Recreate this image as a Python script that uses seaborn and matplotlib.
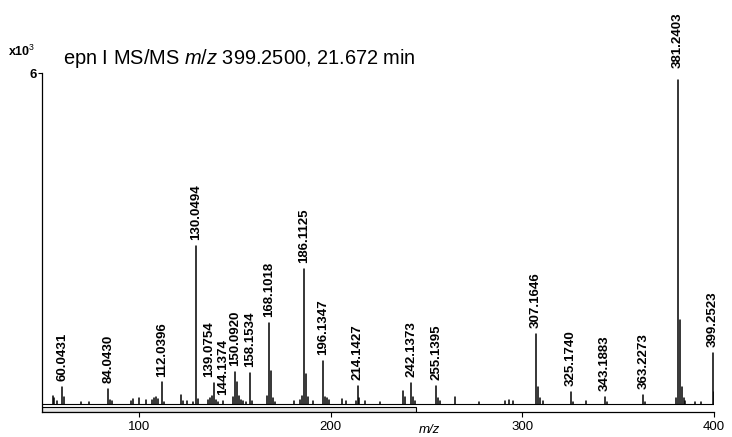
import matplotlib
matplotlib.use("Agg")
import matplotlib.pyplot as plt
import pandas as pd
import seaborn as sns

# ---- data (intensity in x10^3 counts) ----
labeled_mz = [60.0431, 84.0430, 112.0396, 130.0494, 139.0754, 144.1374, 150.0920,
              158.1534, 168.1018, 186.1125, 196.1347, 214.1427, 242.1373, 255.1395,
              307.1646, 325.1740, 343.1883, 363.2273, 381.2403, 399.2523]
labeled_int = [0.31, 0.27, 0.39, 2.86, 0.38, 0.05, 0.58,
               0.56, 1.47, 2.45, 0.78, 0.33, 0.38, 0.33,
               1.27, 0.21, 0.12, 0.16, 5.87, 0.92]
minor_mz = [55.0, 56.0, 57.1, 61.0, 70.1, 74.0, 85.0, 86.1, 95.7, 97.0, 100.1, 104.0,
            107.1, 108.1, 109.1, 110.1, 113.0, 122.1, 123.1, 125.1, 128.1, 131.05,
            136.1, 137.1, 138.1, 140.08, 141.1, 149.1, 151.1, 152.1, 153.1, 154.1,
            156.1, 159.1, 167.1, 169.1, 170.1, 171.1, 181.1, 184.1, 185.1, 187.1,
            188.1, 191.1, 197.1, 198.1, 199.1, 206.1, 208.1, 213.1, 215.1, 217.8,
            225.7, 237.7, 238.7, 243.1, 244.1, 256.1, 257.1, 265.1, 277.4, 291.2,
            293.2, 295.2, 308.2, 309.2, 311.0, 326.2, 333.2, 344.2, 364.2, 380.2,
            382.24, 383.24, 384.2, 385.0, 390.0, 393.0, 400.25]
minor_int = [0.15, 0.10, 0.05, 0.12, 0.04, 0.04, 0.08, 0.05, 0.06, 0.09, 0.11, 0.08,
             0.07, 0.10, 0.12, 0.09, 0.04, 0.17, 0.06, 0.06, 0.04, 0.09,
             0.07, 0.11, 0.14, 0.08, 0.04, 0.12, 0.40, 0.15, 0.08, 0.06,
             0.04, 0.06, 0.15, 0.60, 0.10, 0.04, 0.05, 0.08, 0.15, 0.55,
             0.12, 0.06, 0.12, 0.10, 0.08, 0.09, 0.06, 0.06, 0.10, 0.05,
             0.03, 0.23, 0.12, 0.12, 0.05, 0.10, 0.05, 0.12, 0.03, 0.06,
             0.07, 0.06, 0.30, 0.10, 0.05, 0.04, 0.05, 0.04, 0.04, 0.10,
             1.52, 0.30, 0.10, 0.06, 0.04, 0.03, 0.22]
x_ticks = [100, 200, 300, 400]
y_ticks = [6]
title_text = "epn I MS/MS $m/z$ 399.2500, 21.672 min"
y_multiplier = "x10$^3$"
x_label = "m/z"

# ---- style ----
sns.set_theme(style="white")
plt.rcParams['font.family'] = ['Liberation Sans', 'DejaVu Sans']
plt.rcParams['mathtext.fontset'] = 'custom'
plt.rcParams['mathtext.rm'] = 'Liberation Sans'
plt.rcParams['mathtext.it'] = 'Liberation Sans:italic'
plt.rcParams['mathtext.bf'] = 'Liberation Sans:bold'
for k in ['text.color', 'axes.labelcolor', 'xtick.color', 'ytick.color', 'axes.edgecolor']:
    plt.rcParams[k] = 'black'

W, H = 732, 437
fig = plt.figure(figsize=(W / 100, H / 100), dpi=100)
ax_left, ax_right, ax_top, ax_bot = 42, 714, 73, 411.7
ax = fig.add_axes([ax_left / W, 1 - ax_bot / H, (ax_right - ax_left) / W, (ax_bot - ax_top) / H])

mz_all = labeled_mz + minor_mz
int_all = labeled_int + minor_int
rows = []
for i, (m, h) in enumerate(zip(mz_all, int_all)):
    rows.append({"peak": i, "mz": m, "intensity": 0.0})
    rows.append({"peak": i, "mz": m, "intensity": h})
df = pd.DataFrame(rows)

sns.lineplot(data=df, x="mz", y="intensity", units="peak", estimator=None, sort=False,
             color="black", linewidth=1.1, ax=ax, legend=False)
ax.axhline(0, color="black", linewidth=0.8)

# scroll-bar like double axis line
y_per_px = 6.0 / (404 - 73)
ymin = -(ax_bot - 404) * y_per_px
ax.set_xlim(49.5, 400)
ax.set_ylim(ymin, 6.0)
ax.axhspan(ymin, -(407 - 404) * y_per_px, xmin=0, xmax=(416 - 42) / 672,
           facecolor="#e6e6e6", edgecolor="black", linewidth=0.8)

# labels
nudge = {139.0754: -3.0}
for m, h in zip(labeled_mz, labeled_int):
    dy = 8.5 if h > 5 else 4.3
    ax.annotate(f"{m:.4f}", xy=(m, h), xytext=(nudge.get(m, 0.0), dy),
                textcoords="offset points", rotation=90, ha="center", va="bottom",
                fontsize=9.5, fontweight="bold", color="black", annotation_clip=False)

for s in ["top", "right"]:
    ax.spines[s].set_visible(False)
for s in ["left", "bottom"]:
    ax.spines[s].set_color("black")
    ax.spines[s].set_linewidth(0.9)

ax.set_xticks(x_ticks)
ax.set_xticklabels([str(t) for t in x_ticks], fontsize=9.5)
ax.set_yticks(y_ticks)
ax.set_yticklabels([str(t) for t in y_ticks], fontsize=9.5, fontweight="bold")
ax.tick_params(axis="x", direction="out", length=3.6, width=0.8, color="black", pad=3, bottom=True)
ax.tick_params(axis="y", direction="out", length=2.9, width=0.8, color="black", pad=1, left=True)
ax.set_xlabel(x_label, style="italic", fontsize=9.5, va="top")
ax.xaxis.set_label_coords((429 - 42) / 672, -(424 - ax_bot) / (ax_bot - ax_top))
ax.set_ylabel("")

fig.text(8 / W, 1 - 51 / H, y_multiplier, fontsize=9, fontweight="bold", ha="left", va="center")
fig.text(63 / W, 1 - 58 / H, title_text, fontsize=14.4, ha="left", va="center")

fig.savefig("out.png", dpi=100)
